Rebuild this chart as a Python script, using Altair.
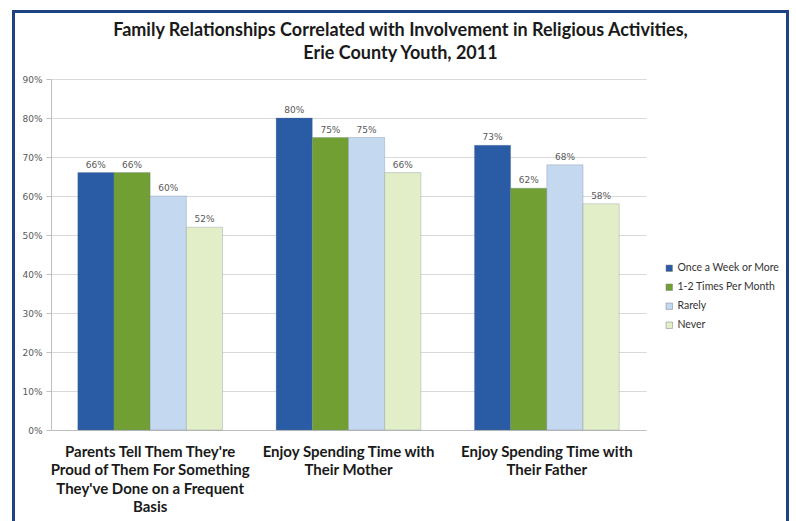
import altair as alt
import pandas as pd

categories = [
    "Parents Tell Them They're|Proud of Them For Something|They've Done on a Frequent|Basis",
    "Enjoy Spending Time with|Their Mother",
    "Enjoy Spending Time with|Their Father",
]
series = ["Once a Week or More", "1-2 Times Per Month", "Rarely", "Never"]
once_a_week = [66, 80, 73]
one_two_month = [66, 75, 62]
rarely = [60, 75, 68]
never = [52, 66, 58]
colors = ["#2A5BA5", "#719F33", "#C4D8F0", "#E2EEC7"]
y_ticks = [0, 10, 20, 30, 40, 50, 60, 70, 80, 90]

rows = []
for s, vals in zip(series, [once_a_week, one_two_month, rarely, never]):
    for c, v in zip(categories, vals):
        rows.append({"category": c, "series": s, "value": v})
df = pd.DataFrame(rows)

x_scale = alt.Scale(paddingInner=0.27, paddingOuter=0.135)
y_scale = alt.Scale(domain=[0, 90], nice=False)
x_axis = alt.Axis(
    labelExpr="split(datum.label, '|')",
    labelAngle=0,
    labelFont="Lato",
    labelFontWeight="bold",
    labelFontSize=15,
    labelColor="#1a1a1a",
    labelLineHeight=18.5,
    labelPadding=14,
    labelLimit=400,
    tickSize=0,
    domainColor="#BFBFBF",
)
y_axis = alt.Axis(
    values=y_ticks,
    labelExpr="datum.value + '%'",
    labelOverlap=False,
    labelFont="DejaVu Sans",
    labelFontSize=9,
    labelColor="#595959",
    labelPadding=4,
    tickSize=5,
    tickColor="#BFBFBF",
    domainColor="#BFBFBF",
    gridColor="#D9D9D9",
)
x_enc = alt.X("category:N", sort=categories, title=None, scale=x_scale, axis=x_axis)
y_enc = alt.Y("value:Q", title=None, scale=y_scale, axis=y_axis)
xoff = alt.XOffset("series:N", sort=series, scale=alt.Scale(paddingInner=0, paddingOuter=0))

base = alt.Chart(df)

bars = base.mark_bar(stroke="#6b7b8c", strokeWidth=0.5, strokeOpacity=0.6).encode(
    x=x_enc,
    xOffset=xoff,
    y=y_enc,
    color=alt.Color(
        "series:N",
        sort=series,
        scale=alt.Scale(domain=series, range=colors),
        legend=alt.Legend(
            title=None,
            orient="none",
            legendX=613,
            legendY=184,
            symbolType="square",
            symbolSize=42,
            symbolStrokeColor="#7f7f7f",
            symbolStrokeWidth=0.5,
            labelFont="Lato",
            labelFontSize=10.5,
            labelColor="#333333",
            rowPadding=8,
            labelOffset=3,
        ),
    ),
)

labels = base.mark_text(
    dy=-5, baseline="alphabetic", font="DejaVu Sans", fontSize=9, color="#595959"
).transform_calculate(lbl="datum.value + '%'").encode(
    x=x_enc,
    xOffset=xoff,
    y=y_enc,
    text="lbl:N",
)

frame = alt.Chart(pd.DataFrame({"a": [0]})).mark_rect(
    fill="transparent", stroke="#1F4283", strokeWidth=3
).encode(
    x=alt.value(-37.5), x2=alt.value(736.5), y=alt.value(-67.5), y2=alt.value(460)
)

chart = alt.layer(frame, bars, labels).properties(
    width=595,
    height=351,
    autosize=alt.AutoSizeParams(type="none"),
    padding={"left": 51, "top": 79, "right": 150, "bottom": 91},
    background="white",
    title=alt.TitleParams(
        text=[
            "Family Relationships Correlated with Involvement in Religious Activities,",
            "Erie County Youth, 2011",
        ],
        font="Lato",
        fontSize=18,
        fontWeight="bold",
        color="#1a1a1a",
        anchor="middle",
        dx=52,
        offset=-53,
        lineHeight=23,
    ),
).configure_view(stroke="transparent")

chart.save("out.html", embed_options={"renderer": "svg", "actions": False})
